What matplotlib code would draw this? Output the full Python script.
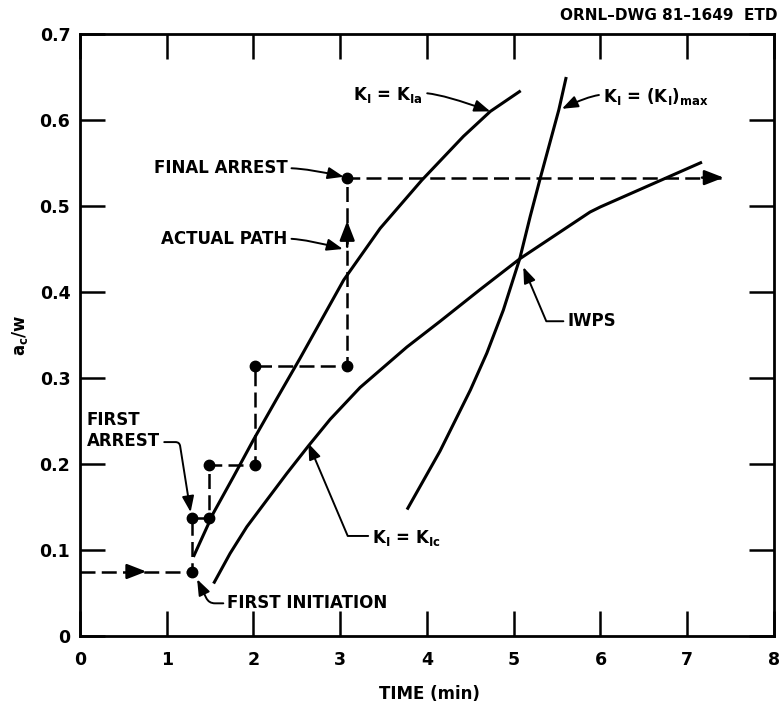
import matplotlib
matplotlib.use("Agg")
import matplotlib.pyplot as plt

plt.rcParams["font.family"] = ["DejaVu Sans"]
plt.rcParams["font.weight"] = "bold"
plt.rcParams["mathtext.default"] = "regular"

# Crack-depth curves a_c/w versus time (min)
kia_time = [1.307, 1.538, 1.768, 1.999, 2.269, 2.537, 3.04, 3.46, 3.94, 4.42, 4.73, 5.08]
kia_depth = [0.092, 0.143, 0.185, 0.228, 0.276, 0.323, 0.414, 0.474, 0.530, 0.581, 0.610, 0.634]

kic_time = [1.54, 1.73, 1.923, 2.153, 2.384, 2.633, 2.884, 3.229, 3.768, 4.152, 4.614,
            5.075, 5.88, 6.0, 7.17]
kic_depth = [0.061, 0.096, 0.127, 0.158, 0.189, 0.221, 0.252, 0.289, 0.336, 0.366, 0.403,
             0.439, 0.493, 0.499, 0.551]

kmax_time = [3.77, 4.15, 4.50, 4.69, 4.88, 5.07, 5.19, 5.31, 5.52, 5.605]
kmax_depth = [0.147, 0.215, 0.286, 0.329, 0.379, 0.439, 0.488, 0.534, 0.612, 0.650]

# Actual crack path: initiation / arrest events
path_time = [0.0, 1.288, 1.288, 1.49, 1.49, 2.018, 2.018, 3.08, 3.08, 7.42]
path_depth = [0.075, 0.075, 0.137, 0.137, 0.199, 0.199, 0.314, 0.314, 0.533, 0.533]

x_ticks = [0, 1, 2, 3, 4, 5, 6, 7, 8]
y_ticks = [0, 0.1, 0.2, 0.3, 0.4, 0.5, 0.6, 0.7]
y_tick_labels = ["0", "0.1", "0.2", "0.3", "0.4", "0.5", "0.6", "0.7"]

fig = plt.figure(figsize=(7.81, 7.06), dpi=100)
ax = fig.add_axes([80 / 781, 70 / 706, 694 / 781, 602 / 706])
ax.set_xlim(0, 8)
ax.set_ylim(0, 0.7)

LW = 2.2
for t, d in ((kia_time, kia_depth), (kic_time, kic_depth), (kmax_time, kmax_depth)):
    ax.plot(t, d, color="black", lw=LW, solid_capstyle="butt", solid_joinstyle="round")

# dashed crack path and event dots
ax.plot(path_time, path_depth, color="black", lw=1.8, linestyle=(0, (6, 2.5)))
ax.plot(path_time[1:-1], path_depth[1:-1], "o", color="black", ms=7.5)

arrow_kw = dict(arrowstyle="-|>,head_length=0.9,head_width=0.35", color="black",
                lw=1.8, shrinkA=0, shrinkB=0, mutation_scale=13)
# arrow on the first horizontal run
x_mid = 0.5 * (path_time[0] + path_time[1])
ax.annotate("", xy=(x_mid + 0.12, path_depth[0]), xytext=(x_mid - 0.1, path_depth[0]),
            arrowprops=arrow_kw)
# arrow on the last vertical jump
y_mid = path_depth[7] + 0.77 * (path_depth[8] - path_depth[7])
ax.annotate("", xy=(path_time[7], y_mid), xytext=(path_time[7], y_mid - 0.03),
            arrowprops=arrow_kw)
# arrow at the end of the path
ax.annotate("", xy=(path_time[-1], path_depth[-1]), xytext=(path_time[-1] - 0.25, path_depth[-1]),
            arrowprops=arrow_kw)

# axes styling
for s in ax.spines.values():
    s.set_linewidth(2.0)
ax.set_xticks(x_ticks)
ax.set_yticks(y_ticks)
ax.set_yticklabels(y_tick_labels)
ax.tick_params(direction="in", length=18, width=1.8, top=True, right=True,
               labelsize=12.5)
ax.tick_params(axis="x", pad=11)
ax.tick_params(axis="y", pad=7)

ax.set_xlabel("TIME (min)", fontsize=12, fontweight="bold")
ax.xaxis.set_label_coords(0.503, -0.081)
ax.set_ylabel("a$_{\\mathregular{c}}$/w", fontsize=12, fontweight="bold")
ax.yaxis.set_label_coords(-0.072, 0.5)

fig.text(778 / 781, 1 - 15 / 706, "ORNL\u2013DWG 81\u20131649  ETD", ha="right", va="center",
         fontsize=11, fontweight="bold")

lead = dict(arrowstyle="-|>,head_length=0.8,head_width=0.3", color="black", lw=1.4,
            mutation_scale=12, shrinkA=1, shrinkB=0)
FS = 12

def label(text, tip, pos, ha, relpos, conn):
    props = dict(lead)
    props["relpos"] = relpos
    props["connectionstyle"] = conn
    ax.annotate(text, xy=tip, xytext=pos, ha=ha, va="center", fontsize=FS,
                fontweight="bold", arrowprops=props)

label("FINAL ARREST", (3.04, 0.534), (2.39, 0.544), "right", (1, 0.5),
      "angle3,angleA=0,angleB=167")
label("ACTUAL PATH", (3.03, 0.450), (2.39, 0.462), "right", (1, 0.5),
      "angle3,angleA=0,angleB=165")
label("K$_{\\mathregular{I}}$ = K$_{\\mathregular{Ia}}$", (4.73, 0.610), (3.15, 0.629),
      "left", (1, 0.6), "angle3,angleA=0,angleB=160")
label("K$_{\\mathregular{I}}$ = (K$_{\\mathregular{I}}$)$_{\\mathregular{max}}$", (5.555, 0.613),
      (6.03, 0.627), "left", (0, 0.6), "angle3,angleA=0,angleB=26")
label("IWPS", (5.11, 0.429), (5.62, 0.366), "left", (0, 0.5),
      "angle,angleA=0,angleB=-67,rad=0")
label("K$_{\\mathregular{I}}$ = K$_{\\mathregular{Ic}}$", (2.633, 0.224), (3.37, 0.114),
      "left", (0, 0.6), "angle,angleA=0,angleB=-67,rad=0")
label("FIRST INITIATION", (1.35, 0.066), (1.70, 0.038), "left", (0, 0.5),
      "angle,angleA=0,angleB=-64,rad=6")
label("FIRST\nARREST", (1.275, 0.144), (0.08, 0.239), "left", (1, 0.2),
      "angle,angleA=0,angleB=99,rad=4")

fig.savefig("out.png", dpi=100)
